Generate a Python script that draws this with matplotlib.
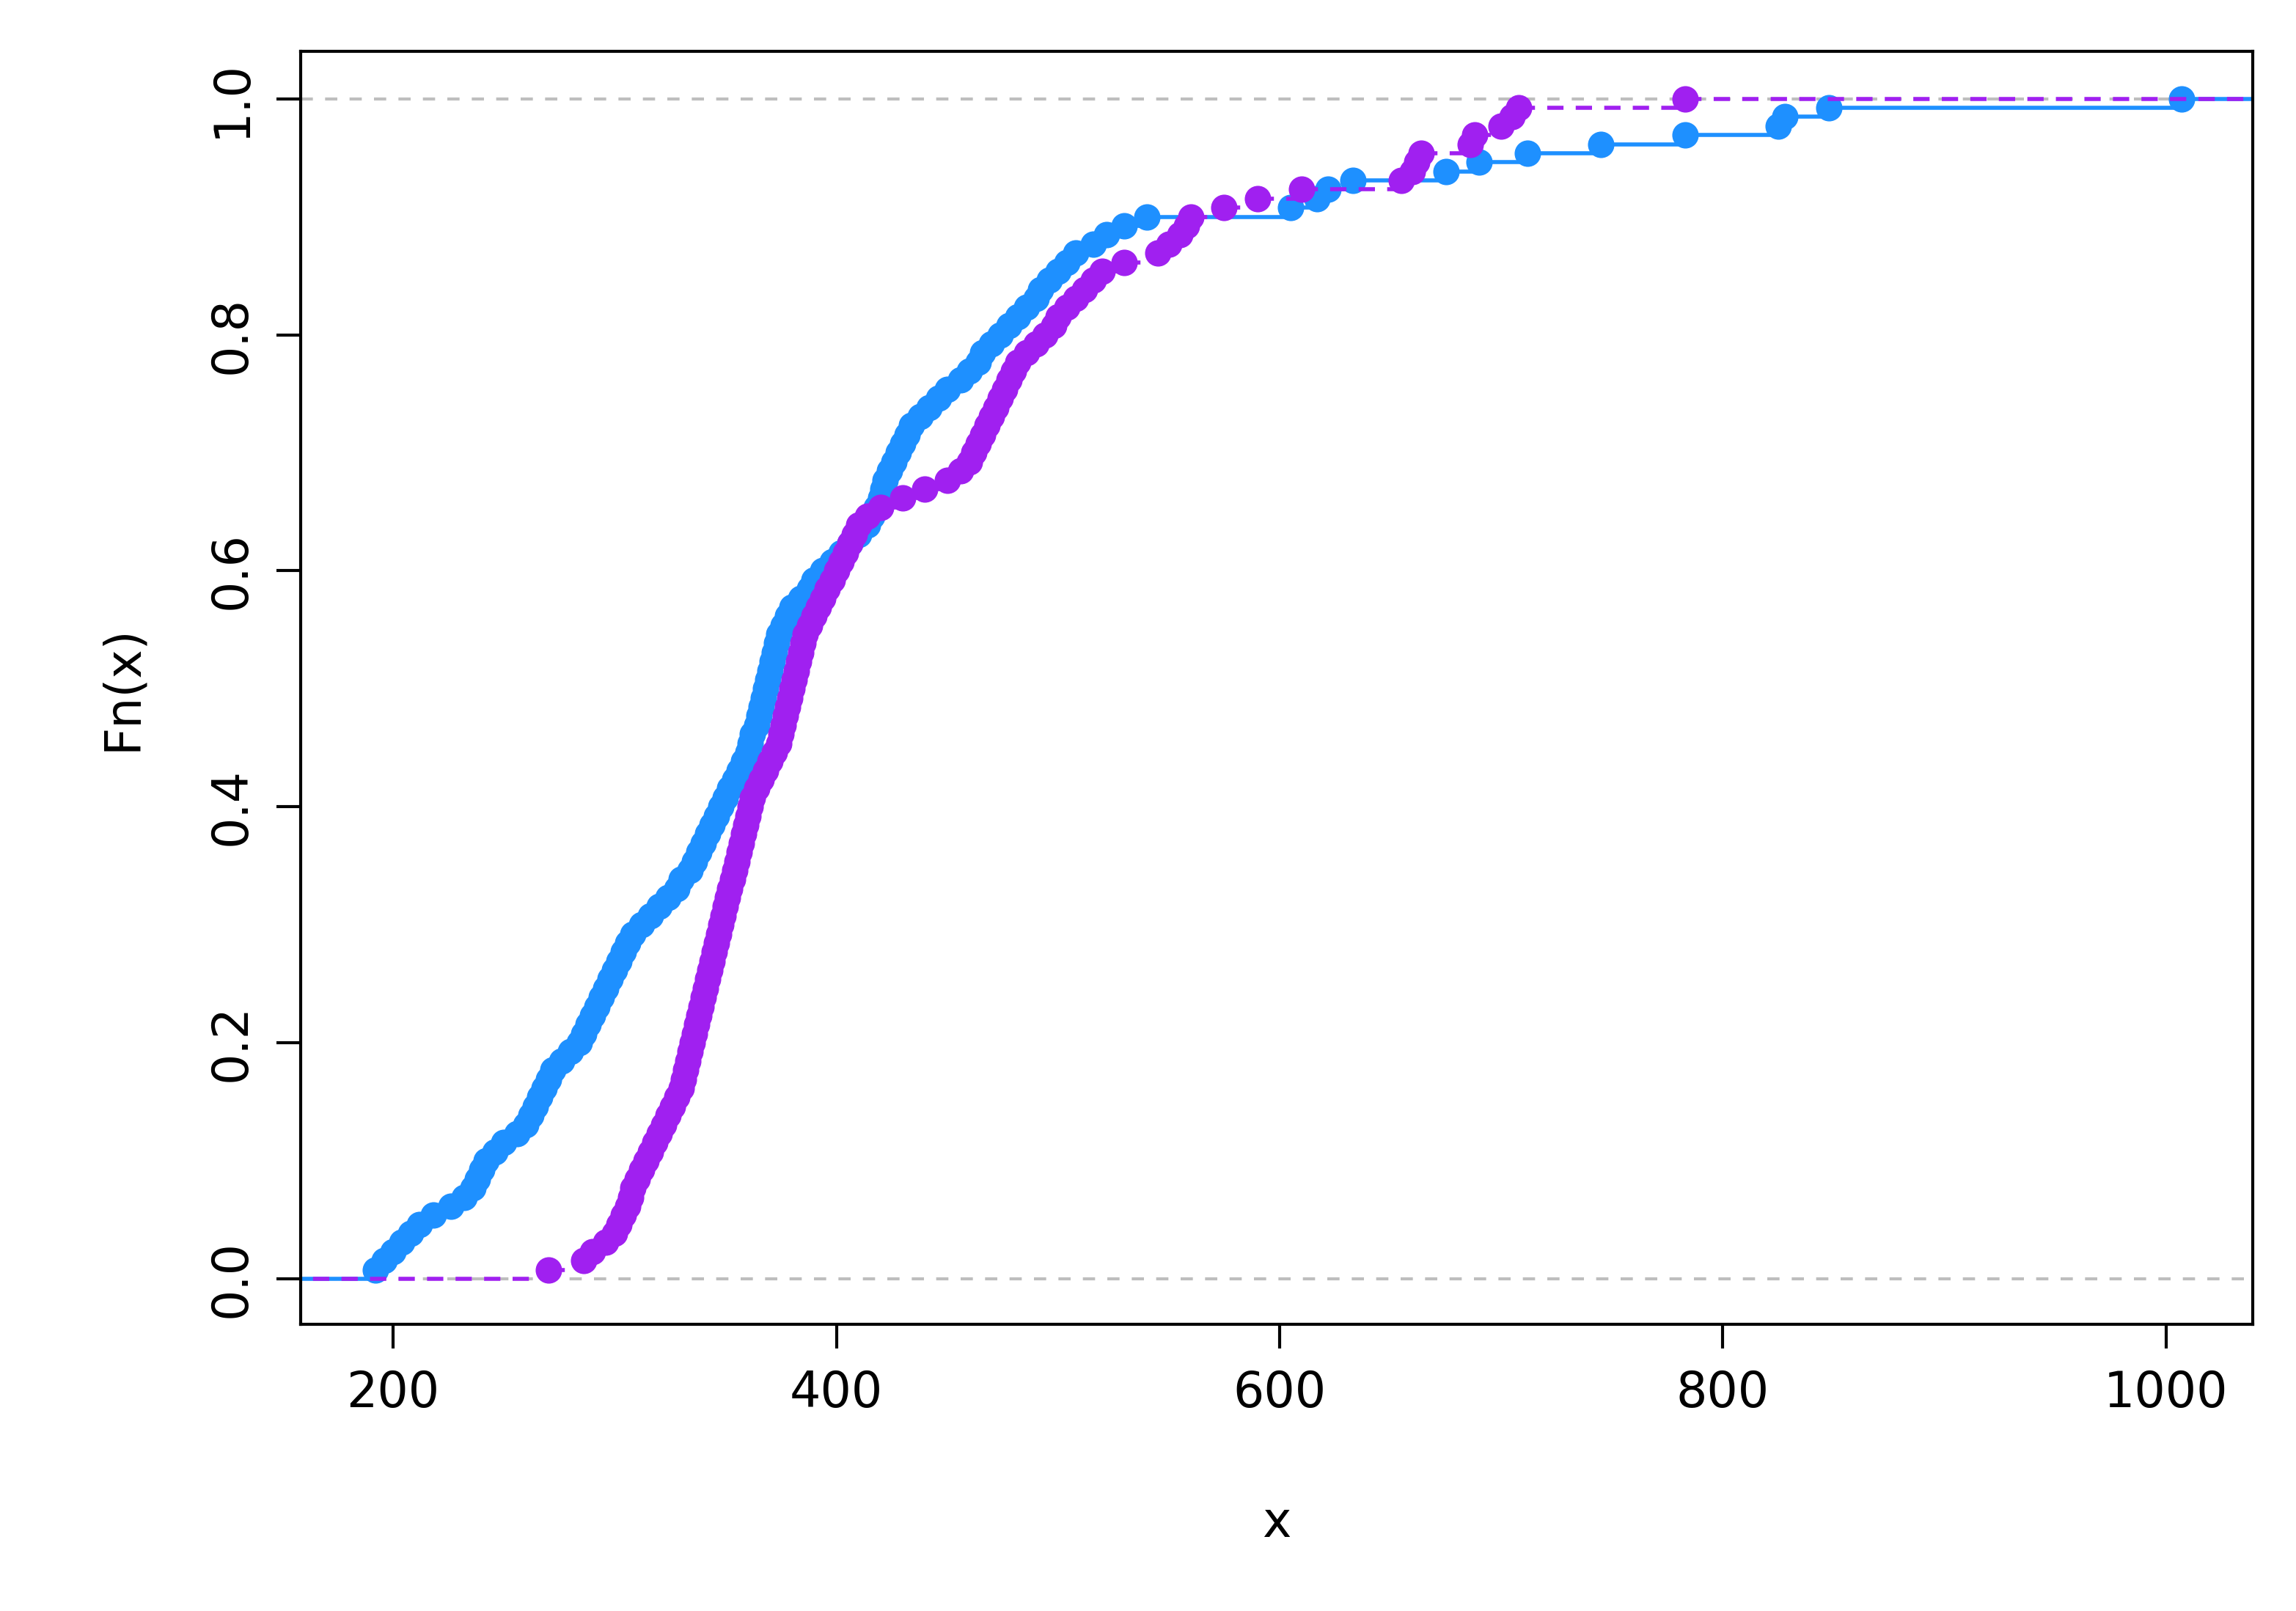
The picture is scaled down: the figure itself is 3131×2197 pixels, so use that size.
import numpy as np
import matplotlib.pyplot as plt

# sorted sample values (two groups, n=130 each)
blue_x = [192, 196, 200, 204, 208, 212, 218, 226, 232, 236, 238, 240, 242,
          246, 250, 256, 260, 262, 264, 266, 268, 270, 272, 276, 280, 284,
          286, 288, 290, 292, 294, 296, 298, 300, 302, 304, 306, 308, 312,
          316, 320, 324, 328, 330, 334, 336, 338, 340, 342, 344, 346, 348,
          350, 352, 354, 356, 358, 360, 361, 362, 364, 365, 366, 367, 368,
          369, 370, 371, 372, 373, 374, 376, 378, 380, 384, 388, 390, 394,
          398, 402, 406, 410, 414, 416, 418, 420, 421, 422, 424, 426, 428,
          430, 432, 434, 438, 442, 446, 450, 456, 460, 464, 466, 470, 474,
          478, 482, 486, 490, 492, 496, 500, 504, 508, 516, 522, 530, 540,
          605, 617, 622, 633, 675, 690, 712, 745, 783, 825, 828, 848, 1007]
purple_x = [270, 286, 290, 296, 300, 302, 304, 306, 307, 308, 310, 312, 314,
            316, 318, 320, 322, 324, 326, 328, 330, 331, 332, 333, 334, 335,
            336, 337, 338, 339, 340, 341, 342, 343, 344, 345, 346, 347, 348,
            349, 350, 351, 352, 353, 354, 355, 356, 357, 358, 359, 360, 361,
            362, 364, 366, 368, 370, 372, 374, 375, 376, 377, 378, 379, 380,
            381, 382, 383, 384, 385, 386, 388, 390, 392, 394, 396, 398, 400,
            402, 404, 406, 408, 410, 414, 420, 430, 440, 450, 456, 460, 462,
            464, 466, 468, 470, 472, 474, 476, 478, 480, 482, 486, 490, 494,
            498, 500, 504, 508, 512, 516, 520, 530, 545, 550, 555, 558, 560,
            575, 590, 610, 655, 660, 662, 664, 686, 688, 700, 705, 708, 783]

fig = plt.figure(figsize=(15.655, 10.985), dpi=200)
ax = fig.add_axes([0.131, 0.178, 0.85, 0.79])

ax.axhline(0, color='#bebebe', ls=(0, (4, 4)), lw=1.5, zorder=0)
ax.axhline(1, color='#bebebe', ls=(0, (4, 4)), lw=1.5, zorder=0)


def draw_ecdf(xs, color, ls):
    xs = np.sort(np.asarray(xs, dtype=float))
    n = len(xs)
    ys = np.arange(1, n + 1) / n
    starts = np.concatenate([[-1e4], xs])
    ends = np.concatenate([xs, [1e4]])
    levels = np.concatenate([[0], ys])
    ax.hlines(levels, starts, ends, colors=color, linestyles=ls, lw=2)
    ax.plot(xs, ys, 'o', color=color, ms=13, mec='none')


draw_ecdf(blue_x, '#1E90FF', 'solid')
draw_ecdf(purple_x, '#A020F0', (0, (4, 3)))

ax.set_xlim(158.3, 1039)
ax.set_ylim(-0.0385, 1.04)
ax.set_xticks([200, 400, 600, 800, 1000])
ax.set_yticks([0.0, 0.2, 0.4, 0.6, 0.8, 1.0])
ax.set_yticklabels(['0.0', '0.2', '0.4', '0.6', '0.8', '1.0'], rotation=90, va='center')
ax.tick_params(labelsize=24, length=12, width=1.5, pad=10)
for s in ax.spines.values():
    s.set_linewidth(1.5)
ax.set_xlabel('x', fontsize=24, labelpad=40)
ax.set_ylabel('Fn(x)', fontsize=24, labelpad=30)

fig.savefig('out.png', dpi=200, facecolor='white')
